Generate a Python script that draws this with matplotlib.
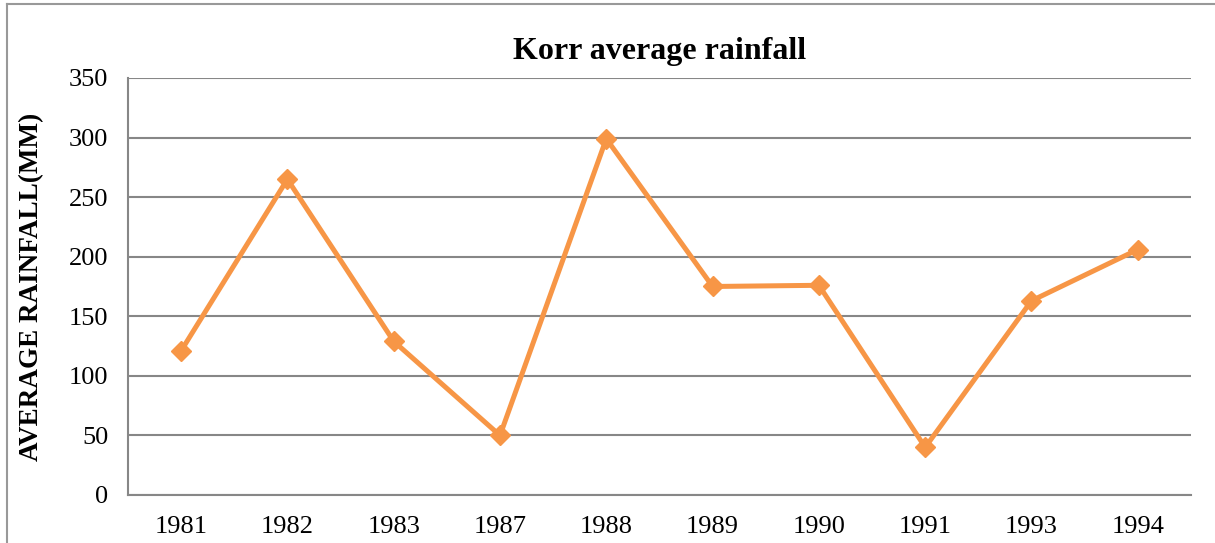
import matplotlib.pyplot as plt
from matplotlib.lines import Line2D

years = ["1981", "1982", "1983", "1987", "1988", "1989", "1990", "1991", "1993", "1994"]
rainfall = [121, 265, 129, 50, 299, 175, 176, 40, 163, 206]
yticks = [0, 50, 100, 150, 200, 250, 300, 350]

plt.rcParams['font.family'] = ['Liberation Serif', 'DejaVu Serif']

fig = plt.figure(figsize=(12.15, 5.43), dpi=100)
ax = fig.add_axes([0.1053, 0.0884, 0.8749, 0.768])

ax.plot(range(len(years)), rainfall, color='#F79646', linewidth=3.6,
        marker='D', markersize=10, zorder=3)

ax.set_xlim(-0.5, len(years) - 0.5)
ax.set_ylim(0, 350)
ax.set_yticks(yticks)
ax.set_xticks(range(len(years)))
ax.set_xticklabels(years)
ax.tick_params(axis='both', length=0, labelsize=19)
ax.tick_params(axis='x', pad=15)
ax.tick_params(axis='y', pad=14)
ax.yaxis.grid(True, color='#878787', linewidth=1.5)
ax.set_axisbelow(True)

for s in ['top', 'right']:
    ax.spines[s].set_visible(False)
ax.spines['left'].set_color('#878787')
ax.spines['bottom'].set_color('#878787')
ax.spines['left'].set_linewidth(1.5)
ax.spines['bottom'].set_linewidth(1.5)

ax.set_title("Korr average rainfall", fontsize=23, fontweight='bold', pad=14)
ax.set_ylabel("AVERAGE RAINFALL(MM)", fontsize=19.5, fontweight='bold', labelpad=18)

# outer frame
fig.add_artist(Line2D([0.0058, 0.0058], [0, 0.9926], color='#999999', linewidth=1.5, transform=fig.transFigure))
fig.add_artist(Line2D([0.0058, 1.0], [0.9926, 0.9926], color='#999999', linewidth=1.5, transform=fig.transFigure))

fig.savefig("out.png", dpi=100)
